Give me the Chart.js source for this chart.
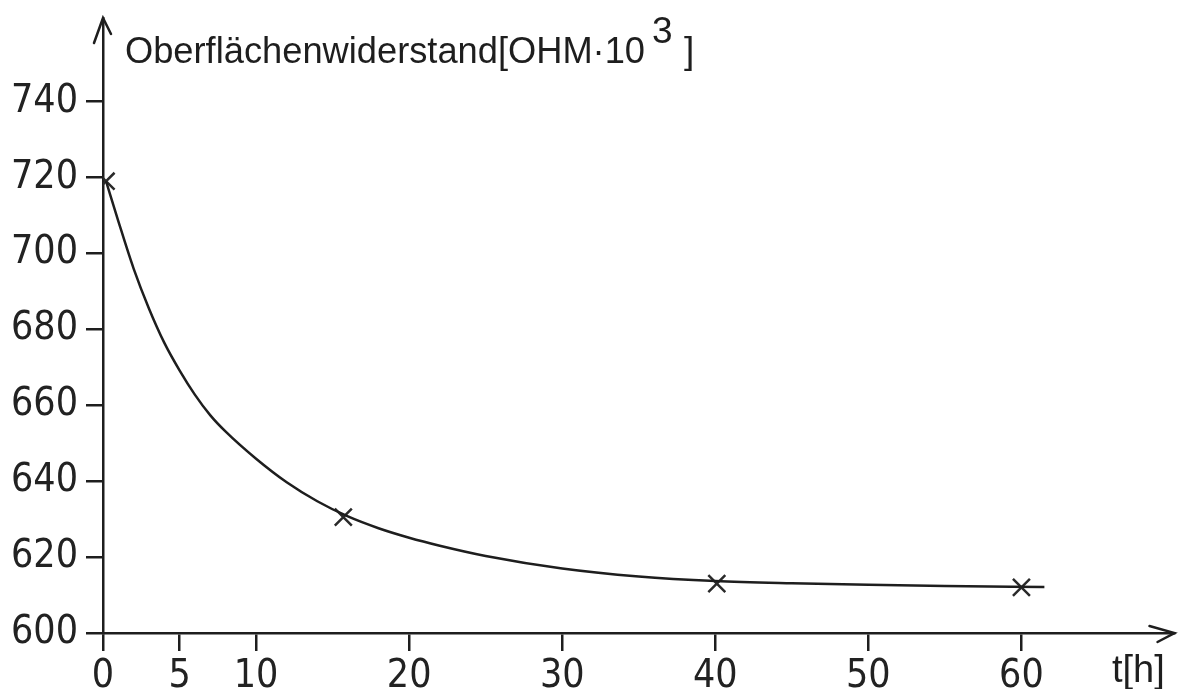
<!DOCTYPE html>
<html>
<head>
<meta charset="utf-8">
<script src="https://cdn.jsdelivr.net/npm/chart.js@4"></script>
<style>
  html, body { margin: 0; padding: 0; background: #fff; }
  canvas { display: block; }
</style>
</head>
<body>
<canvas id="myChart" width="1189" height="689"></canvas>
<script>
var yTitle = 'Oberflächenwiderstand[OHM·10';
var yTitleExp = '3';
var yTitleEnd = ']';
var xTitle = 't[h]';

var xTicks = [0, 5, 10, 20, 30, 40, 50, 60];
var yTicks = [600, 620, 640, 660, 680, 700, 720, 740];

// measured points (the crosses)
var measT = [0.2, 15.7, 40.1, 60];
var measR = [719, 630.5, 613, 612];

// the hand drawn curve
var curveT = [0.2, 1, 2, 3, 4, 5, 6, 7, 8, 10, 12, 14, 16, 18, 20, 22, 25, 30, 35, 40, 45, 50, 55, 61.5];
var curveR = [719, 708.5, 696, 685.5, 676.5, 669.2, 662.8, 657.4, 653.1, 645.9, 639.7, 634.7, 630.7, 627.6, 625.1, 623, 620.3, 617, 614.9, 613.7, 613.1, 612.7, 612.4, 612.1];

var ink = '#1e1e1e';
var tickFont = { family: '"Liberation Sans Narrow", "DejaVu Sans Condensed", "Liberation Sans", sans-serif', size: 39 };

function pts(xs, ys) {
  return xs.map(function (x, i) { return { x: x, y: ys[i] }; });
}

var extras = {
  id: 'extras',
  afterDraw: function (chart) {
    var c = chart.ctx, a = chart.chartArea;
    c.save();
    c.strokeStyle = ink;
    c.lineWidth = 2.5;
    c.lineCap = 'round';
    c.beginPath();
    // arrow on the y axis
    c.moveTo(a.left - 9, a.top + 25);
    c.lineTo(a.left, a.top);
    c.lineTo(a.left + 8, a.top + 16);
    // arrow on the x axis
    c.moveTo(a.right - 25, a.bottom - 7);
    c.lineTo(a.right, a.bottom);
    c.lineTo(a.right - 17, a.bottom + 9);
    c.stroke();

    c.fillStyle = ink;
    c.textBaseline = 'alphabetic';
    c.textAlign = 'left';
    c.font = '37px "Liberation Sans", sans-serif';
    var w = c.measureText(yTitle).width;
    var target = 645 - 125;
    c.save();
    c.translate(125, 63);
    c.scale(target / w, 1);
    c.fillText(yTitle, 0, 0);
    c.restore();
    c.fillText(yTitleExp, 652, 43);
    c.fillText(yTitleEnd, 684, 63);

    c.font = '38px "Liberation Sans", sans-serif';
    c.fillText(xTitle, 1112, 682);
    c.restore();
  }
};

var ctx = document.getElementById('myChart').getContext('2d');
var myChart = new Chart(ctx, {
  type: 'scatter',
  data: {
    datasets: [{
      label: 'Kurve',
      data: pts(curveT, curveR),
      showLine: true,
      borderColor: ink,
      borderWidth: 2.5,
      pointRadius: 0,
      cubicInterpolationMode: 'monotone'
    }, {
      label: 'Messwerte',
      data: pts(measT, measR),
      pointStyle: 'crossRot',
      pointRadius: 12,
      borderColor: '#2a2a2a',
      borderWidth: 2.5,
      backgroundColor: ink
    }]
  },
  plugins: [extras],
  options: {
    responsive: false,
    animation: false,
    layout: {
      padding: { left: 0, right: 12, top: 18, bottom: 0 }
    },
    plugins: {
      legend: { display: false },
      tooltip: { enabled: false }
    },
    scales: {
      x: {
        type: 'linear',
        min: 0,
        max: 70,
        afterBuildTicks: function (scale) {
          scale.ticks = xTicks.map(function (v) { return { value: v }; });
        },
        afterFit: function (scale) {
          scale.height = 56;
          scale.paddingLeft = 0;
          scale.paddingRight = 0;
        },
        grid: { drawOnChartArea: false, drawTicks: true, tickLength: 18, color: ink, lineWidth: 2.5 },
        border: { display: true, color: ink, width: 2.5 },
        ticks: { color: '#222', font: tickFont, padding: 2, maxRotation: 0, autoSkip: false }
      },
      y: {
        type: 'linear',
        min: 600,
        max: 762,
        afterBuildTicks: function (scale) {
          scale.ticks = yTicks.map(function (v) { return { value: v }; });
        },
        afterFit: function (scale) {
          scale.width = 103;
          scale.paddingTop = 0;
          scale.paddingBottom = 0;
        },
        grid: { drawOnChartArea: false, drawTicks: true, tickLength: 17, color: ink, lineWidth: 2.5 },
        border: { display: true, color: ink, width: 2.5 },
        ticks: { color: '#222', font: tickFont, padding: 8, autoSkip: false }
      }
    }
  }
});
</script>
</body>
</html>
